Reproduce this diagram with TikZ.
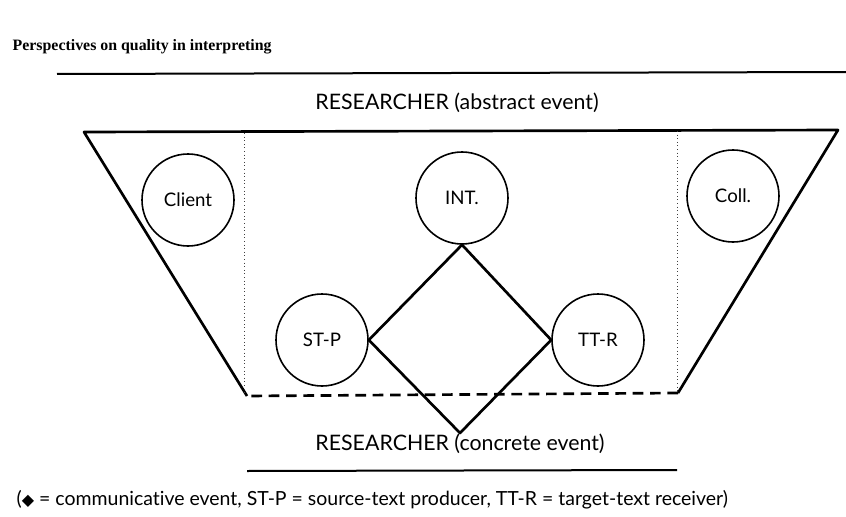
\documentclass[tikz,border=0pt]{standalone}
\usepackage{fontspec}
\setmainfont{Liberation Serif}
\setsansfont[Ligatures=NoCommon]{Lato}
\newfontfamily\symfont{DejaVu Sans}
\usetikzlibrary{positioning}

\begin{document}
\begin{tikzpicture}[x=0.75pt,y=-0.75pt,role/.style={shape=circle,draw=black,line width=1.2pt,minimum size=69pt,inner sep=0pt,font=\sffamily\fontsize{14}{16}\selectfont},caption/.style={font=\sffamily\fontsize{16}{19}\selectfont},frame/.style={line width=2pt,line join=round},divider/.style={dotted,line width=0.7pt,black!75}]
\def\ytop{131};
\def\ybot{395};

\useasboundingbox (0,0) rectangle (846,517);

\node[anchor=west,font=\rmfamily\bfseries\fontsize{11.9}{14}\selectfont] (title) at (8,47) {Perspectives on quality in interpreting};
\coordinate (ruleA) at (57,74);
\coordinate (ruleB) at (846,72);
\draw[line width=1.5pt] (ruleA) -- (ruleB);
\node[caption] (abstract) at (457,103) {RESEARCHER (abstract event)};

% trapezoid
\coordinate (tl) at (84,\ytop+1);
\coordinate (tr) at (838,\ytop-1);
\coordinate (br) at (678,\ybot-2);
\coordinate (bl) at (247,\ybot+1);
\draw[frame] (bl) -- (tl) -- (tr) -- (br);
\draw[frame,dashed,dash pattern=on 8pt off 5pt] (br) -- (bl);
\coordinate (dla) at (244,\ytop+2);
\coordinate (dlb) at (244,\ybot);
\coordinate (dra) at (677,\ytop);
\coordinate (drb) at (677,\ybot-3);
\draw[divider] (dla) -- (dlb);
\draw[divider] (dra) -- (drb);

\node[role] (client) at (188,200) {Client};
\node[role] (int) at (462,198) {INT.};
\node[role] (coll) at (733,196) {Coll.};
\node[role] (stp) at (322,340) {ST-P};
\node[role] (ttr) at (598,340) {TT-R};

% communicative event
\coordinate (evt) at (460,433);
\draw[frame] (int.south) -- (stp.east) -- (evt) -- (ttr.west) -- cycle;

\node[caption] (concrete) at (460,444) {RESEARCHER (concrete event)};
\coordinate (ruleC) at (247,471);
\coordinate (ruleD) at (677,470);
\draw[line width=1.5pt] (ruleC) -- (ruleD);

\node[caption,anchor=west,font=\sffamily\fontsize{14.6}{17}\selectfont] (legend) at (12,500) {({\symfont\fontsize{12}{14}\selectfont ◆} = communicative event, ST-P = source-text producer, TT-R = target-text receiver)};
\end{tikzpicture}
\end{document}
